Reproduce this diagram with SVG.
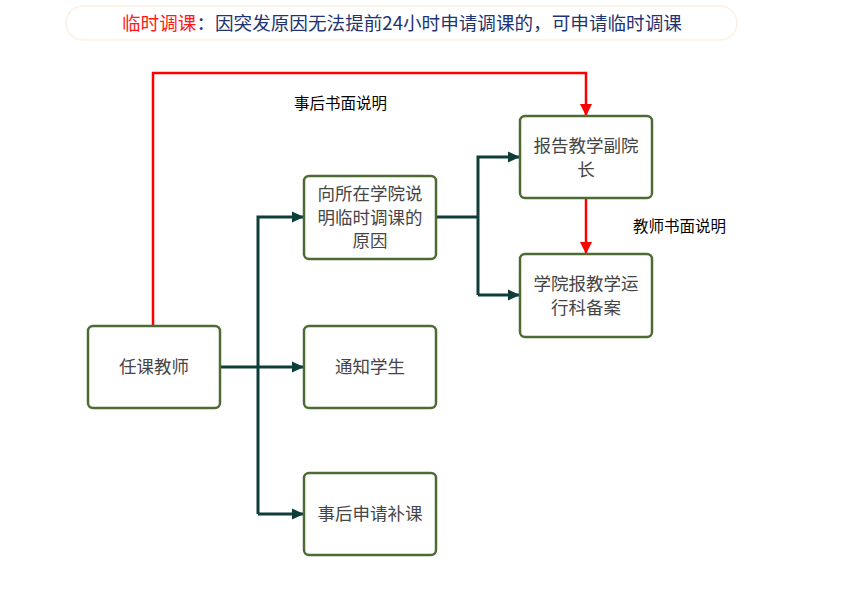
<svg xmlns="http://www.w3.org/2000/svg" width="843" height="602" viewBox="0 0 843 602">
<style>
.box{fill:#fff;stroke:#4e6b35;stroke-width:2.5}
.t{font-family:"Noto Sans CJK SC","Noto Sans",sans-serif;font-size:17.5px;fill:#454545;text-anchor:middle}
.lbl{font-family:"Noto Sans CJK SC","Noto Sans",sans-serif;font-size:15.5px;font-weight:400;fill:#000;text-anchor:start}
.dk{fill:none;stroke:#0f3d3a;stroke-width:3}
.rd{fill:none;stroke:#ff0000;stroke-width:2.5}
</style>
<defs>
<marker id="ad" markerWidth="12" markerHeight="12" refX="11" refY="6" orient="auto" markerUnits="userSpaceOnUse"><path d="M0,0.5 L12,6 L0,11.5 Z" fill="#0f3d3a"/></marker>
<marker id="ar" markerWidth="12" markerHeight="12" refX="11" refY="6" orient="auto" markerUnits="userSpaceOnUse"><path d="M0,0 L12,6 L0,12 Z" fill="#ff0000"/></marker>
</defs>
<rect width="843" height="602" fill="#fff"/>
<g id="title">
<rect x="66" y="6" width="671" height="34" rx="17" fill="#fff" stroke="#fdf0e2" stroke-width="1.5"/>
<text x="122" y="30" font-family="'Noto Sans CJK SC','Noto Sans',sans-serif" font-size="18.6"><tspan fill="#ff1a1a">临时调课</tspan><tspan fill="#1f3470">：因突发原因无法提前24小时申请调课的，可申请临时调课</tspan></text>
</g>
<g id="connectors">
<path class="dk" d="M220,367 H303" marker-end="url(#ad)"/>
<path class="dk" d="M258,514 V217 H303" marker-end="url(#ad)"/>
<path class="dk" d="M258,514 H303" marker-end="url(#ad)"/>
<path class="dk" d="M436,217 H478"/>
<path class="dk" d="M478,295 V157 H519" marker-end="url(#ad)"/>
<path class="dk" d="M478,295 H519" marker-end="url(#ad)"/>
<path class="rd" d="M153,326 V73 H586 V115" marker-end="url(#ar)"/>
<path class="rd" d="M586,198 V253" marker-end="url(#ar)"/>
<text class="lbl" x="294" y="109">事后书面说明</text>
<text class="lbl" x="633" y="232">教师书面说明</text>
</g>
<g id="n1"><rect class="box" x="88" y="326" width="132" height="82" rx="5"/><text class="t" x="154" y="373">任课教师</text></g>
<g id="n2"><rect class="box" x="304" y="176" width="132" height="83" rx="5"/><text class="t" x="370" y="200">向所在学院说</text><text class="t" x="370" y="223.5">明临时调课的</text><text class="t" x="370" y="247">原因</text></g>
<g id="n3"><rect class="box" x="304" y="326" width="132" height="82" rx="5"/><text class="t" x="370" y="373">通知学生</text></g>
<g id="n4"><rect class="box" x="304" y="473" width="132" height="82" rx="5"/><text class="t" x="370" y="520">事后申请补课</text></g>
<g id="n5"><rect class="box" x="520" y="116" width="132" height="82" rx="5"/><text class="t" x="586" y="152">报告教学副院</text><text class="t" x="586" y="175.5">长</text></g>
<g id="n6"><rect class="box" x="520" y="254" width="132" height="83" rx="5"/><text class="t" x="586" y="290">学院报教学运</text><text class="t" x="586" y="313.5">行科备案</text></g>
</svg>
